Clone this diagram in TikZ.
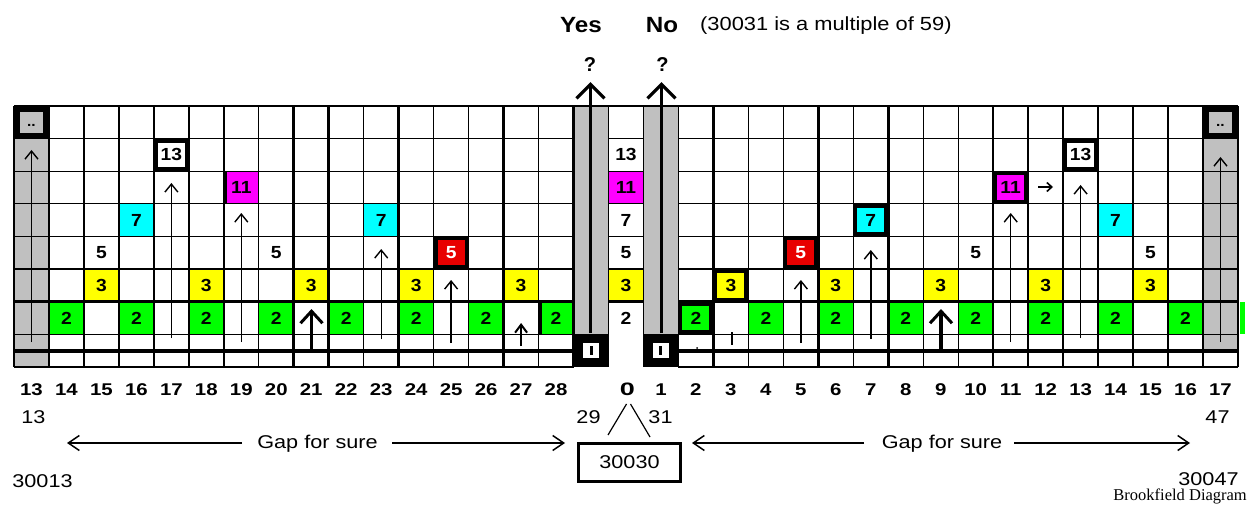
\documentclass[tikz,border=0pt]{standalone}
\usepackage{fontspec}
\setmainfont{Liberation Sans}
\newfontfamily\brookserif{Liberation Serif}
\usetikzlibrary{arrows.meta}
\definecolor{cgreen}{RGB}{0,255,0}
\definecolor{cyel}{RGB}{255,255,0}
\definecolor{ccyan}{RGB}{0,255,255}
\definecolor{cmag}{RGB}{255,0,255}
\definecolor{cred}{RGB}{232,0,0}
\definecolor{cgray}{RGB}{192,192,192}
\newcommand{\hsc}[2]{\scalebox{#1}[1]{#2}}
\newcommand{\fsz}[1]{\fontsize{#1}{#1}\selectfont}
\def\gridW{34.97}
\def\gridH{32.6}
\newcommand{\cellat}[5]{\node[#4] (#1) at ({14+\gridW*(#2+0.5)},{106+\gridH*(#3+0.5)}) {\hsc{1.1}{#5}};}
\newcommand{\uparr}[5]{\coordinate (#1s) at (#2,#3); \coordinate (#1e) at (#2,#4); \draw[#5] (#1s) -- (#1e);}
\tikzset{
  cellbase/.style={inner sep=0pt, minimum width=34.97pt, minimum height=32.6pt, font=\fsz{17.5}\bfseries, text=black},
  pcell/.style={cellbase},
  gcell/.style={cellbase, fill=cgreen},
  ycell/.style={cellbase, fill=cyel},
  ccell/.style={cellbase, fill=ccyan},
  mcell/.style={cellbase, fill=cmag},
  xbox/.style={cellbase, draw=black, line width=4pt, minimum width=30.97pt, minimum height=28.6pt},
  wbox/.style={xbox, fill=white},
  gbox/.style={xbox, fill=cgreen},
  ybox/.style={xbox, fill=cyel},
  cbox/.style={xbox, fill=ccyan},
  mbox/.style={xbox, fill=cmag},
  rbox/.style={xbox, fill=cred, text=white},
  dotbox/.style={cellbase, draw=black, fill=cgray, line width=6pt, minimum width=28.97pt, minimum height=26.6pt, font=\fsz{14}\bfseries},
  thinl/.style={line width=1.3pt},
  thickl/.style={line width=2.6pt},
  thinarr/.style={line width=1.4pt, -{Straight Barb[length=8pt,width=13pt,line width=1.4pt]}},
  midarr/.style={line width=2pt, -{Straight Barb[length=8pt,width=12pt,line width=2pt]}},
  fatarr/.style={line width=3.2pt, -{Straight Barb[length=12pt,width=22pt,line width=3pt]}},
  bigarr/.style={line width=3.6pt, -{Straight Barb[length=14pt,width=28pt,line width=3.2pt]}},
  gaparr/.style={line width=1.5pt, -{Straight Barb[length=11pt,width=15pt,line width=1.5pt]}},
  collab/.style={anchor=base, inner sep=0pt, font=\fsz{17}\bfseries},
  lowlab/.style={anchor=base, inner sep=0pt, font=\fsz{18.5}},
}
\begin{document}
\begin{tikzpicture}[x=1pt,y=-1pt]
\useasboundingbox[fill=white] (0,0) rectangle (1248,508);
% gray columns
\fill[cgray] (14,106) rectangle ({14+\gridW},367);
\fill[cgray] ({14+\gridW*34},106) rectangle ({14+\gridW*35},351);
\fill[cgray] ({14+\gridW*16},106) rectangle ({14+\gridW*17},334.2);
\fill[cgray] ({14+\gridW*18},106) rectangle ({14+\gridW*19},334.2);
\fill[cgreen] (1239.5,301.6) rectangle (1245,334.2);
% cells left
\cellat{c0d}{0}{0}{dotbox}{\raisebox{-8pt}{..}}
\cellat{c34d}{34}{0}{dotbox}{\raisebox{-8pt}{..}}
\cellat{c1g}{1}{6}{gcell}{2}
\cellat{c2y}{2}{5}{ycell}{3}
\cellat{c2f}{2}{4}{pcell}{5}
\cellat{c3g}{3}{6}{gcell}{2}
\cellat{c3c}{3}{3}{ccell}{7}
\cellat{c4t}{4}{1}{wbox}{13}
\cellat{c5g}{5}{6}{gcell}{2}
\cellat{c5y}{5}{5}{ycell}{3}
\cellat{c6m}{6}{2}{mcell}{11}
\cellat{c7g}{7}{6}{gcell}{2}
\cellat{c7f}{7}{4}{pcell}{5}
\cellat{c8y}{8}{5}{ycell}{3}
\cellat{c9g}{9}{6}{gcell}{2}
\cellat{c10c}{10}{3}{ccell}{7}
\cellat{c11g}{11}{6}{gcell}{2}
\cellat{c11y}{11}{5}{ycell}{3}
\cellat{c12r}{12}{4}{rbox}{5}
\cellat{c13g}{13}{6}{gcell}{2}
\cellat{c14y}{14}{5}{ycell}{3}
\cellat{c15g}{15}{6}{gcell}{2}
% centre column
\cellat{c17a}{17}{1}{pcell}{13}
\cellat{c17b}{17}{2}{mcell}{11}
\cellat{c17c}{17}{3}{pcell}{7}
\cellat{c17d}{17}{4}{pcell}{5}
\cellat{c17e}{17}{5}{ycell}{3}
\cellat{c17f}{17}{6}{pcell}{2}
% cells right
\cellat{c19g}{19}{6}{gbox}{2}
\cellat{c20y}{20}{5}{ybox}{3}
\cellat{c21g}{21}{6}{gcell}{2}
\cellat{c22r}{22}{4}{rbox}{5}
\cellat{c23g}{23}{6}{gcell}{2}
\cellat{c23y}{23}{5}{ycell}{3}
\cellat{c24c}{24}{3}{cbox}{7}
\cellat{c25g}{25}{6}{gcell}{2}
\cellat{c26y}{26}{5}{ycell}{3}
\cellat{c27g}{27}{6}{gcell}{2}
\cellat{c27f}{27}{4}{pcell}{5}
\cellat{c28m}{28}{2}{mbox}{11}
\cellat{c29g}{29}{6}{gcell}{2}
\cellat{c29y}{29}{5}{ycell}{3}
\cellat{c30t}{30}{1}{wbox}{13}
\cellat{c31g}{31}{6}{gcell}{2}
\cellat{c31c}{31}{3}{ccell}{7}
\cellat{c32y}{32}{5}{ycell}{3}
\cellat{c32f}{32}{4}{pcell}{5}
\cellat{c33g}{33}{6}{gcell}{2}
% vertical grid lines
\foreach \k in {0,2,4,5,7,10,12,13,15,19,21,22,24,26,27,29,30,32,34,35}
  \draw[thinl] ({14+\gridW*\k},106) -- ({14+\gridW*\k},367);
\foreach \k in {1,3,6,8,9,11,14,16,20,23,25,28,31,33}
  \draw[thickl] ({14+\gridW*\k},106) -- ({14+\gridW*\k},367);
\foreach \k in {17,18}
  \draw[line width=1.6pt] ({14+\gridW*\k},106) -- ({14+\gridW*\k},334.2);
% horizontal grid lines
\draw[line width=2.4pt] (14,106) -- (1238,106);
\foreach \r/\w in {1/1.3,2/1.3,3/1.3,4/1.3,5/2.4,6/2.4}{
  \draw[line width=\w pt] (14,{106+\gridH*\r}) -- ({14+\gridW*16},{106+\gridH*\r});
  \draw[line width=\w pt] ({14+\gridW*17},{106+\gridH*\r}) -- ({14+\gridW*18},{106+\gridH*\r});
  \draw[line width=\w pt] ({14+\gridW*19},{106+\gridH*\r}) -- (1238,{106+\gridH*\r});
}
\foreach \yy/\w in {334.2/1.3,351/3.6,367/1.3}{
  \draw[line width=\w pt] (14,\yy) -- ({14+\gridW*16},\yy);
  \draw[line width=\w pt] ({14+\gridW*19},\yy) -- (1238,\yy);
}
% partial thick borders
\draw[line width=3pt] ({14+\gridW*6+1.5},171.2) -- ({14+\gridW*6+1.5},203.8);
\draw[line width=3.5pt] ({14+\gridW*14},301.6) -- ({14+\gridW*15+1.5},301.6) -- ({14+\gridW*15+1.5},334.2);
% black boxes at the bottom of columns 29 and 31
\foreach \k/\nm in {16/bxa,18/bxb}{
  \node[fill=black, inner sep=0pt, minimum width=35pt, minimum height=33pt] (\nm) at ({14+\gridW*(\k+0.5)},350.6) {};
  \node[fill=white, inner sep=0pt, minimum width=16pt, minimum height=15pt] (\nm w) at (\nm.center) {};
  \node[fill=black, inner sep=0pt, minimum width=3pt, minimum height=9pt] (\nm i) at (\nm.center) {};
}
% arrows inside the grid
\uparr{a0}{31.5}{342}{150}{thinarr}
\uparr{a4}{171.4}{338}{183}{thinarr}
\uparr{a6}{241.3}{342}{213}{thinarr}
\uparr{a8}{311.5}{351}{309}{fatarr}
\uparr{a10}{381.2}{339}{249}{thinarr}
\uparr{a12}{451.1}{343}{280}{thinarr}
\uparr{a14}{521.1}{346}{323}{midarr}
\uparr{a22}{800.9}{343}{280}{thinarr}
\uparr{a24}{870.8}{339}{250}{thinarr}
\uparr{a26}{941}{351}{309}{fatarr}
\uparr{a28}{1010.7}{342}{213}{thinarr}
\uparr{a30}{1080.6}{338}{185}{thinarr}
\uparr{a34}{1220.5}{342}{157}{thinarr}
\coordinate (ra0) at (1038,187); \coordinate (ra1) at (1053,187);
\draw[line width=1.6pt, -{Straight Barb[length=5pt,width=9pt,line width=1.6pt]}] (ra0) -- (ra1);
\coordinate (tk0) at (732,332); \coordinate (tk1) at (732,345);
\draw[line width=1.3pt] (tk0) -- (tk1);
\fill (697,348) circle (1pt);
% top labels
\node[anchor=base, inner sep=0pt, font=\fsz{22}\bfseries] (yesL) at (581,33) {\hsc{1.1}{Yes}};
\node[anchor=base, inner sep=0pt, font=\fsz{22}\bfseries] (noL) at (662,33) {\hsc{1.1}{No}};
\node[anchor=base west, inner sep=0pt, font=\fsz{19}] (note) at (700,31) {\hsc{1.15}{(30031 is a multiple of 59)}};
\node[anchor=base, inner sep=0pt, font=\fsz{20}\bfseries] (q1) at (590,72) {?};
\node[anchor=base, inner sep=0pt, font=\fsz{20}\bfseries] (q2) at (662.5,72) {?};
\coordinate (ba0) at (590.5,333); \coordinate (bb0) at (661.5,333);
\draw[bigarr, shorten >=10pt] (ba0) -- (ba0 |- q1.south);
\draw[bigarr, shorten >=10pt] (bb0) -- (bb0 |- q2.south);
% column labels
\foreach \i in {0,...,15}{
  \pgfmathtruncatemacro\lab{13+\i}
  \node[collab] (lab\i) at ({14+\gridW*(\i+0.5)},395) {\hsc{1.2}{\lab}};
}
\node[collab, font=\fsz{18}\bfseries] (zeroL) at (627.5,395) {\hsc{1.5}{0}};
\node[collab] (oneL) at ({14+\gridW*18.5},395) {\hsc{1.2}{1}};
\foreach \i in {2,...,17}{
  \pgfmathtruncatemacro\cc{\i+17}
  \node[collab] (rlab\i) at ({14+\gridW*(\cc+0.5)},395) {\hsc{1.2}{\i}};
}
% lower labels
\node[lowlab] (n13) at (33.5,423) {\hsc{1.17}{13}};
\node[lowlab] (n29) at (588.5,423) {\hsc{1.17}{29}};
\node[lowlab] (n31) at (660.5,423) {\hsc{1.17}{31}};
\node[lowlab] (n47) at (1217.5,423) {\hsc{1.17}{47}};
\node[lowlab] (n30013) at (42.5,487) {\hsc{1.17}{30013}};
\node[lowlab] (n30047) at (1208.5,485) {\hsc{1.17}{30047}};
\node[draw=black, line width=3pt, inner sep=0pt, minimum width=102pt, minimum height=38pt, font=\fsz{18.5}] (box30030) at (629.5,462.5) {\hsc{1.17}{30030}};
\coordinate (s1a) at (626.5,404); \coordinate (s1b) at (608,435);
\coordinate (s2a) at (630.5,404); \coordinate (s2b) at (650,437);
\draw[line width=1.2pt] (s1a) -- (s1b);
\draw[line width=1.2pt] (s2a) -- (s2b);
\node[lowlab] (gapL) at (317.5,448) {\hsc{1.17}{Gap for sure}};
\node[lowlab] (gapR) at (942,448) {\hsc{1.17}{Gap for sure}};
\coordinate (gL0) at (67,443); \coordinate (gL1) at (242,443);
\coordinate (gL2) at (392,443); \coordinate (gL3) at (565,443);
\coordinate (gR0) at (692,443); \coordinate (gR1) at (864,443);
\coordinate (gR2) at (1014,443); \coordinate (gR3) at (1190,443);
\draw[gaparr] (gL1) -- (gL0);
\draw[gaparr] (gL2) -- (gL3);
\draw[gaparr] (gR1) -- (gR0);
\draw[gaparr] (gR2) -- (gR3);
\node[anchor=base east, inner sep=0pt, font=\brookserif\fsz{16.5}] (brook) at (1247,500) {Brookfield Diagram};
\end{tikzpicture}
\end{document}
